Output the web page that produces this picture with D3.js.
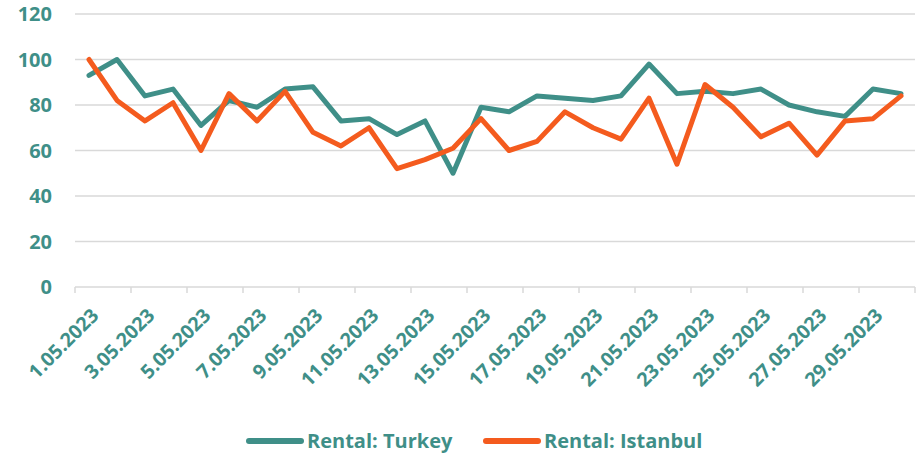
<!DOCTYPE html>
<html>
<head>
<meta charset="utf-8">
<script src="https://cdn.jsdelivr.net/npm/d3@7"></script>
<style>
  body { margin: 0; background: #fff; }
  text { font-family: "Open Sans", Lato, sans-serif; font-weight: bold; fill: #3f8f88; }
</style>
</head>
<body>
<svg id="chart" width="918" height="454"></svg>
<script>
'use strict';

// one value per day, 1.05.2023 .. 30.05.2023
var days = d3.range(1, 31).map(function (d) { return d + '.05.2023'; });
var turkey = [93, 100, 84, 87, 71, 82, 79, 87, 88, 73,
              74, 67, 73, 50, 79, 77, 84, 83, 82, 84,
              98, 85, 86, 85, 87, 80, 77, 75, 87, 85];
var istanbul = [100, 82, 73, 81, 60, 85, 73, 86, 68, 62,
                70, 52, 56, 61, 74, 60, 64, 77, 70, 65,
                83, 54, 89, 79, 66, 72, 58, 73, 74, 84];
var yTicks = [0, 20, 40, 60, 80, 100, 120];
var seriesNames = ['Rental: Turkey', 'Rental: Istanbul'];
var colors = ['#3f8f88', '#f45b1e'];

var svg = d3.select('#chart');
var plotLeft = 75, plotRight = 915, plotTop = 14, plotBottom = 287;

var x = d3.scaleBand().domain(days).range([plotLeft, plotRight]);
var y = d3.scaleLinear().domain([0, 120]).range([plotBottom, plotTop]);

// gridlines
svg.append('g').selectAll('line')
  .data(yTicks.filter(function (t) { return t > 0; }))
  .enter().append('line')
  .attr('x1', plotLeft).attr('x2', plotRight)
  .attr('y1', function (d) { return y(d); }).attr('y2', function (d) { return y(d); })
  .style('stroke', '#d9d9d9').style('stroke-width', 1.5);

// y labels
svg.append('g').selectAll('text')
  .data(yTicks)
  .enter().append('text')
  .attr('x', 52).attr('y', function (d) { return y(d); })
  .attr('dy', '0.35em')
  .attr('text-anchor', 'end')
  .style('font-size', '20px')
  .text(function (d) { return d; });

// x axis line and tick marks every 2 days
svg.append('line')
  .attr('x1', plotLeft).attr('x2', plotRight).attr('y1', plotBottom).attr('y2', plotBottom)
  .style('stroke', '#d9d9d9').style('stroke-width', 1.5);

var tickPos = d3.range(0, days.length + 1, 2).map(function (i) { return plotLeft + i * x.step(); });
svg.append('g').selectAll('line')
  .data(tickPos)
  .enter().append('line')
  .attr('x1', function (d) { return d; }).attr('x2', function (d) { return d; })
  .attr('y1', plotBottom).attr('y2', plotBottom + 6)
  .style('stroke', '#d9d9d9').style('stroke-width', 1.5);

svg.append('g').selectAll('text')
  .data(days.filter(function (d, i) { return i % 2 === 0; }))
  .enter().append('text')
  .attr('transform', function (d) {
    return 'translate(' + (x(d) + x.bandwidth() / 2 + 6) + ',' + (plotBottom + 25) + ') rotate(-45)';
  })
  .attr('dy', '0.35em')
  .attr('text-anchor', 'end')
  .style('font-size', '19.5px')
  .text(function (d) { return d; });

// lines
var line = d3.line()
  .x(function (d, i) { return x(days[i]) + x.bandwidth() / 2; })
  .y(function (d) { return y(d); });

[turkey, istanbul].forEach(function (s, k) {
  svg.append('path')
    .datum(s)
    .attr('d', line)
    .style('fill', 'none')
    .style('stroke', colors[k])
    .style('stroke-width', 5)
    .style('stroke-linejoin', 'round')
    .style('stroke-linecap', 'round');
});

// legend
var legendX = [249, 486];
seriesNames.forEach(function (name, k) {
  var g = svg.append('g').attr('transform', 'translate(' + legendX[k] + ',441)');
  g.append('line')
    .attr('x1', 0).attr('x2', 52).attr('y1', 0).attr('y2', 0)
    .style('stroke', colors[k]).style('stroke-width', 6).style('stroke-linecap', 'round');
  g.append('text')
    .attr('x', 58).attr('dy', '0.35em')
    .style('font-size', '20px')
    .text(name);
});
</script>
</body>
</html>
